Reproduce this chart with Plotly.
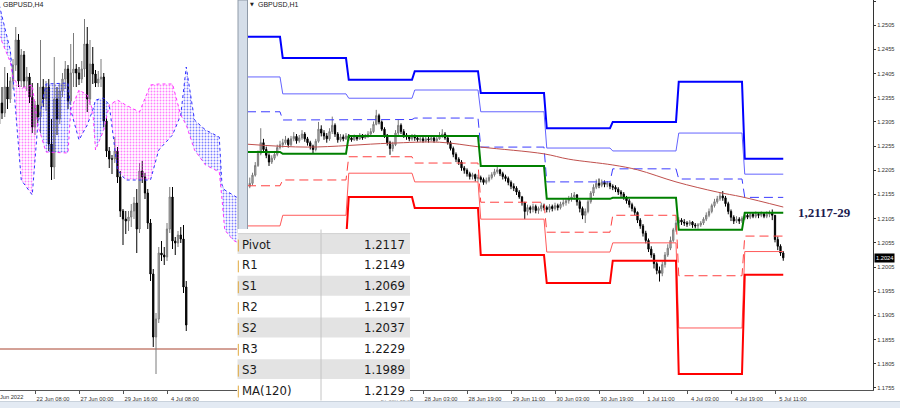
import plotly.graph_objects as go

W, H = 900, 408

# ---------------- H4 chart (left window) ----------------
h4_bar = list(range(-13, 56))
h4_first_open = 1.2225
h4_close = [1.2246, 1.2236, 1.2262, 1.2250, 1.2268, 1.2284, 1.2309, 1.2268, 1.2294, 1.2268, 1.2272, 1.2252, 1.2222,
            1.2244, 1.2232, 1.2262, 1.2250, 1.2262, 1.2205, 1.2182, 1.2250, 1.2230, 1.2258, 1.2270, 1.2280, 1.2248,
            1.2276, 1.2280, 1.2276, 1.2270, 1.2280, 1.2305, 1.2250, 1.2285, 1.2275, 1.2266, 1.2270, 1.2272, 1.2228,
            1.2198, 1.2190, 1.2190, 1.2198, 1.2172, 1.2138, 1.2130, 1.2128, 1.2132, 1.2138, 1.2146, 1.2120, 1.2178,
            1.2172, 1.2156, 1.2126, 1.2075, 1.2012, 1.2030, 1.2096, 1.2094, 1.2092, 1.2120, 1.2152, 1.2108, 1.2106,
            1.2114, 1.2110, 1.2062, 1.2024]
h4_high = [1.2250, 1.2262, 1.2282, 1.2276, 1.2272, 1.2290, 1.2322, 1.2315, 1.2300, 1.2298, 1.2282, 1.2276, 1.2266,
           1.2248, 1.2266, 1.2309, 1.2270, 1.2268, 1.2270, 1.2230, 1.2292, 1.2262, 1.2266, 1.2276, 1.2288, 1.2284,
           1.2305, 1.2316, 1.2285, 1.2282, 1.2288, 1.2330, 1.2322, 1.2309, 1.2302, 1.2279, 1.2278, 1.2290, 1.2276,
           1.2232, 1.2202, 1.2194, 1.2212, 1.2202, 1.2178, 1.2140, 1.2138, 1.2138, 1.2145, 1.2152, 1.2160, 1.2186,
           1.2188, 1.2176, 1.2160, 1.2130, 1.2080, 1.2036, 1.2102, 1.2108, 1.2102, 1.2126, 1.2162, 1.2162, 1.2112,
           1.2118, 1.2122, 1.2124, 1.2068]
h4_low = [1.2215, 1.2230, 1.2232, 1.2240, 1.2246, 1.2260, 1.2278, 1.2262, 1.2262, 1.2262, 1.2258, 1.2246, 1.2216,
          1.2214, 1.2226, 1.2216, 1.2242, 1.2238, 1.2198, 1.2169, 1.2170, 1.2214, 1.2225, 1.2252, 1.2260, 1.2240,
          1.2244, 1.2262, 1.2262, 1.2264, 1.2266, 1.2272, 1.2237, 1.2244, 1.2265, 1.2262, 1.2262, 1.2262, 1.2222,
          1.2192, 1.2181, 1.2175, 1.2186, 1.2166, 1.2132, 1.2104, 1.2115, 1.2118, 1.2122, 1.2130, 1.2096, 1.2116,
          1.2166, 1.2150, 1.2120, 1.2068, 1.2002, 1.1975, 1.2026, 1.2088, 1.2084, 1.2088, 1.2116, 1.2100, 1.2094,
          1.2102, 1.2106, 1.2056, 1.2018]
h4_tick_bars = [0, 16, 32, 48]
h4_tick_text = ["22 Jun 08:00", "27 Jun 00:00", "29 Jun 16:00", "4 Jul 08:00"]
h4_first_label = "17 Jun 2022"
h4_level = 1.2000

# Ichimoku Senkou spans (shifted forward)
span_bar = [-13, -9, -8, -5, -1, 1, 4, 12, 13, 16, 19, 21, 22, 25, 27, 30, 33, 38, 42, 45, 50, 53, 55, 58,
            62, 67, 68, 69, 72, 75]
span_a = [1.2344, 1.2299, 1.2271, 1.2169, 1.2154, 1.2224, 1.2265, 1.2266, 1.2239, 1.2209, 1.2224, 1.2239,
          1.2249, 1.2251, 1.2244, 1.2179, 1.2169, 1.2169, 1.2169, 1.2199, 1.2214, 1.2234, 1.2282, 1.2229,
          1.2219, 1.2212, 1.2164, 1.2159, 1.2154, 1.2149]
span_b = [1.2314, 1.2287, 1.2271, 1.2261, 1.2264, 1.2224, 1.2197, 1.2196, 1.2239, 1.2259, 1.2254, 1.2239,
          1.2199, 1.2219, 1.2244, 1.2249, 1.2244, 1.2237, 1.2264, 1.2265, 1.2265, 1.2234, 1.2224, 1.2199,
          1.2184, 1.2177, 1.2150, 1.2119, 1.2109, 1.2104]

# ---------------- H1 chart (right window) ----------------
h1_bar = list(range(-60, 135))
h1_first_open = 1.2172
h1_close = [1.2178, 1.2195, 1.2215, 1.2240, 1.2262, 1.2248, 1.2236, 1.2222, 1.2230, 1.2238, 1.2252, 1.2258,
            1.2262, 1.2268, 1.2258, 1.2270, 1.2275, 1.2266, 1.2272, 1.2280, 1.2270, 1.2262, 1.2255, 1.2248,
            1.2265, 1.2290, 1.2282, 1.2276, 1.2270, 1.2285, 1.2298, 1.2280, 1.2268, 1.2274, 1.2270, 1.2276,
            1.2272, 1.2268, 1.2275, 1.2270, 1.2278, 1.2272, 1.2276, 1.2280, 1.2285, 1.2300, 1.2318, 1.2305,
            1.2290, 1.2278, 1.2262, 1.2250, 1.2258, 1.2282, 1.2298, 1.2285, 1.2278, 1.2274, 1.2270, 1.2275,
            1.2272, 1.2268, 1.2270, 1.2266, 1.2270, 1.2268, 1.2272, 1.2266, 1.2270, 1.2276, 1.2280, 1.2272,
            1.2262, 1.2250, 1.2238, 1.2228, 1.2222, 1.2210, 1.2205, 1.2198, 1.2192, 1.2196, 1.2188, 1.2190,
            1.2186, 1.2180, 1.2184, 1.2190, 1.2196, 1.2202, 1.2206, 1.2198, 1.2192, 1.2188, 1.2180, 1.2172,
            1.2168, 1.2160, 1.2150, 1.2138, 1.2120, 1.2128, 1.2124, 1.2130, 1.2122, 1.2126, 1.2132, 1.2128,
            1.2124, 1.2130, 1.2126, 1.2132, 1.2128, 1.2135, 1.2138, 1.2142, 1.2146, 1.2150, 1.2154, 1.2140,
            1.2126, 1.2112, 1.2120, 1.2140, 1.2158, 1.2170, 1.2178, 1.2174, 1.2180, 1.2176, 1.2178, 1.2172,
            1.2170, 1.2166, 1.2160, 1.2156, 1.2148, 1.2142, 1.2134, 1.2126, 1.2118, 1.2102, 1.2090, 1.2075,
            1.2060, 1.2042, 1.2030, 1.2012, 1.1998, 1.1992, 1.2010, 1.2030, 1.2044, 1.2060, 1.2082, 1.2096,
            1.2102, 1.2098, 1.2096, 1.2094, 1.2098, 1.2092, 1.2090, 1.2092, 1.2096, 1.2104, 1.2112, 1.2120,
            1.2132, 1.2140, 1.2146, 1.2152, 1.2148, 1.2136, 1.2120, 1.2108, 1.2100, 1.2104, 1.2100, 1.2106,
            1.2112, 1.2108, 1.2114, 1.2110, 1.2114, 1.2112, 1.2115, 1.2110, 1.2114, 1.2116, 1.2112, 1.2062,
            1.2048, 1.2034, 1.2024]
h1_high = [1.2190, 1.2200, 1.2222, 1.2246, 1.2292, 1.2270, 1.2254, 1.2240, 1.2236, 1.2245, 1.2258, 1.2266,
           1.2270, 1.2276, 1.2272, 1.2276, 1.2284, 1.2280, 1.2278, 1.2288, 1.2284, 1.2274, 1.2266, 1.2258,
           1.2270, 1.2305, 1.2298, 1.2288, 1.2282, 1.2292, 1.2316, 1.2302, 1.2284, 1.2280, 1.2279, 1.2282,
           1.2280, 1.2276, 1.2279, 1.2278, 1.2282, 1.2280, 1.2280, 1.2286, 1.2292, 1.2306, 1.2330, 1.2322,
           1.2308, 1.2294, 1.2280, 1.2266, 1.2264, 1.2288, 1.2309, 1.2302, 1.2290, 1.2282, 1.2278, 1.2280,
           1.2279, 1.2276, 1.2274, 1.2274, 1.2276, 1.2274, 1.2278, 1.2275, 1.2276, 1.2284, 1.2290, 1.2284,
           1.2276, 1.2266, 1.2254, 1.2242, 1.2232, 1.2226, 1.2214, 1.2209, 1.2202, 1.2200, 1.2198, 1.2196,
           1.2194, 1.2190, 1.2190, 1.2196, 1.2201, 1.2208, 1.2212, 1.2208, 1.2202, 1.2196, 1.2192, 1.2184,
           1.2178, 1.2172, 1.2164, 1.2152, 1.2140, 1.2134, 1.2132, 1.2136, 1.2134, 1.2130, 1.2138, 1.2136,
           1.2132, 1.2135, 1.2134, 1.2138, 1.2136, 1.2140, 1.2145, 1.2148, 1.2152, 1.2158, 1.2160, 1.2156,
           1.2144, 1.2130, 1.2126, 1.2144, 1.2162, 1.2176, 1.2186, 1.2188, 1.2186, 1.2184, 1.2183, 1.2180,
           1.2176, 1.2174, 1.2170, 1.2164, 1.2160, 1.2152, 1.2146, 1.2138, 1.2130, 1.2120, 1.2106, 1.2094,
           1.2080, 1.2064, 1.2048, 1.2034, 1.2016, 1.2006, 1.2016, 1.2036, 1.2052, 1.2068, 1.2086, 1.2102,
           1.2108, 1.2106, 1.2104, 1.2100, 1.2102, 1.2100, 1.2096, 1.2096, 1.2100, 1.2108, 1.2118, 1.2126,
           1.2136, 1.2146, 1.2152, 1.2160, 1.2162, 1.2152, 1.2140, 1.2124, 1.2112, 1.2110, 1.2108, 1.2110,
           1.2118, 1.2116, 1.2118, 1.2118, 1.2120, 1.2118, 1.2120, 1.2118, 1.2120, 1.2122, 1.2124, 1.2112,
           1.2068, 1.2052, 1.2038]
h1_low = [1.2168, 1.2174, 1.2192, 1.2212, 1.2236, 1.2242, 1.2230, 1.2214, 1.2218, 1.2226, 1.2234, 1.2248,
          1.2252, 1.2258, 1.2252, 1.2255, 1.2265, 1.2260, 1.2262, 1.2268, 1.2264, 1.2256, 1.2248, 1.2240,
          1.2244, 1.2262, 1.2275, 1.2268, 1.2262, 1.2266, 1.2280, 1.2274, 1.2262, 1.2264, 1.2265, 1.2268,
          1.2266, 1.2264, 1.2266, 1.2266, 1.2268, 1.2268, 1.2270, 1.2272, 1.2277, 1.2282, 1.2298, 1.2300,
          1.2286, 1.2272, 1.2256, 1.2237, 1.2244, 1.2255, 1.2278, 1.2280, 1.2272, 1.2268, 1.2265, 1.2266,
          1.2266, 1.2264, 1.2264, 1.2262, 1.2263, 1.2262, 1.2265, 1.2262, 1.2264, 1.2268, 1.2272, 1.2268,
          1.2258, 1.2246, 1.2232, 1.2222, 1.2216, 1.2204, 1.2198, 1.2192, 1.2186, 1.2186, 1.2182, 1.2181,
          1.2180, 1.2175, 1.2176, 1.2180, 1.2186, 1.2192, 1.2198, 1.2193, 1.2186, 1.2182, 1.2174, 1.2166,
          1.2162, 1.2154, 1.2146, 1.2132, 1.2104, 1.2112, 1.2116, 1.2118, 1.2116, 1.2115, 1.2120, 1.2122,
          1.2118, 1.2118, 1.2120, 1.2122, 1.2122, 1.2124, 1.2130, 1.2132, 1.2136, 1.2140, 1.2144, 1.2132,
          1.2118, 1.2104, 1.2096, 1.2116, 1.2136, 1.2152, 1.2166, 1.2168, 1.2170, 1.2170, 1.2170, 1.2166,
          1.2164, 1.2160, 1.2154, 1.2150, 1.2144, 1.2136, 1.2128, 1.2120, 1.2112, 1.2096, 1.2084, 1.2068,
          1.2054, 1.2036, 1.2024, 1.2002, 1.1990, 1.1975, 1.1986, 1.2004, 1.2026, 1.2040, 1.2056, 1.2078,
          1.2090, 1.2092, 1.2090, 1.2088, 1.2090, 1.2086, 1.2085, 1.2084, 1.2088, 1.2092, 1.2100, 1.2108,
          1.2116, 1.2128, 1.2136, 1.2142, 1.2142, 1.2130, 1.2114, 1.2100, 1.2094, 1.2096, 1.2094, 1.2096,
          1.2102, 1.2104, 1.2104, 1.2106, 1.2106, 1.2106, 1.2108, 1.2106, 1.2106, 1.2108, 1.2102, 1.2056,
          1.2040, 1.2028, 1.2018]

# daily pivot levels (one value per trading day)
day_start = [-61, -48, -24, 0, 24, 48, 72, 96, 120]
day_end = [-49, -25, -1, 23, 47, 71, 95, 119, 134]
lvl_r3 = [1.2481, 1.2437, 1.2392, 1.2410, 1.2365, 1.2292, 1.2305, 1.2388, 1.2229]
lvl_r2 = [1.2398, 1.2363, 1.2354, 1.2371, 1.2326, 1.2251, 1.2245, 1.2282, 1.2197]
lvl_r1 = [1.2326, 1.2309, 1.2310, 1.2313, 1.2253, 1.2181, 1.2208, 1.2187, 1.2149]
lvl_pp = [1.2243, 1.2239, 1.2276, 1.2276, 1.2214, 1.2146, 1.2148, 1.2082, 1.2117]
lvl_s1 = [1.2173, 1.2185, 1.2233, 1.2220, 1.2139, 1.2077, 1.2112, 1.1987, 1.2069]
lvl_s2 = [1.2090, 1.2112, 1.2199, 1.2181, 1.2104, 1.2036, 1.2055, 1.1879, 1.2037]
lvl_s3 = [1.2010, 1.2058, 1.2150, 1.2127, 1.2030, 1.1972, 1.2018, 1.1784, 1.1989]

ma_bar = [-61, -39, -9, 9, 24, 47, 56, 72, 81, 95, 110, 119, 134]
ma_val = [1.2259, 1.2253, 1.2261, 1.2263, 1.2253, 1.2239, 1.2228, 1.2216, 1.2206, 1.2181, 1.2160, 1.2150, 1.2129]

h1_tick_bars = [-13, 3, 19, 35, 51, 67, 83, 99, 115, 131]
h1_tick_text = ["27 Jun 11:00", "28 Jun 03:00", "28 Jun 19:00", "29 Jun 11:00", "30 Jun 03:00",
                "30 Jun 19:00", "1 Jul 11:00", "4 Jul 03:00", "4 Jul 19:00", "5 Jul 11:00"]
price_ticks = [1.2555, 1.2505, 1.2455, 1.2405, 1.2355, 1.2305, 1.2255, 1.2205, 1.2155, 1.2105,
               1.2055, 1.2005, 1.1955, 1.1905, 1.1855, 1.1805, 1.1755]
price_tick_text = ["1.2555", "1.2505", "1.2455", "1.2405", "1.2355", "1.2305", "1.2255", "1.2205", "1.2155",
                   "1.2105", "1.2055", "1.2005", "1.1955", "1.1905", "1.1855", "1.1805", "1.1755"]
last_price = 1.2024

table_labels = ["Pivot", "R1", "S1", "R2", "S2", "R3", "S3", "MA(120)"]
table_values = ["1.2117", "1.2149", "1.2069", "1.2197", "1.2037", "1.2229", "1.1989", "1.2129"]
zone_label = "1,2117-29"


# ---------------- helpers (pixel -> paper) ----------------
def px(x):
    return x / W


def py(y):
    return 1 - y / H


TICK_FONT = dict(family="Liberation Sans, Arial, sans-serif", size=5.7, color="#333333")
TABLE_FONT = "Liberation Sans Narrow, Arial Narrow, DejaVu Sans Condensed, Liberation Sans, sans-serif"

fig = go.Figure()

# ---- Ichimoku cloud (left) ----
sections = []
cur = [0]
for i in range(1, len(span_bar)):
    cur.append(i)
    if span_a[i] == span_b[i] and i != len(span_bar) - 1:
        sections.append(cur)
        cur = [i]
if len(cur) > 1:
    sections.append(cur)

for sec in sections:
    up = any(span_a[j] > span_b[j] for j in sec)
    col = "#0000ff" if up else "#ff00ff"
    xs = [span_bar[j] for j in sec] + [span_bar[j] for j in reversed(sec)]
    ys = [span_a[j] for j in sec] + [span_b[j] for j in reversed(sec)]
    fig.add_trace(go.Scatter(
        x=xs, y=ys, mode="none", fill="toself", fillcolor="rgba(0,0,0,0)",
        fillpattern=dict(shape=".", fgcolor=col, bgcolor="rgba(0,0,0,0)", size=3, solidity=0.3),
        xaxis="x", yaxis="y", hoverinfo="skip", showlegend=False))

fig.add_trace(go.Scatter(x=span_bar, y=span_a, mode="lines", line=dict(color="#3030ff", width=1, dash="dot"),
                         xaxis="x", yaxis="y", hoverinfo="skip", showlegend=False))
fig.add_trace(go.Scatter(x=span_bar, y=span_b, mode="lines", line=dict(color="#ff30ff", width=1, dash="dot"),
                         xaxis="x", yaxis="y", hoverinfo="skip", showlegend=False))

h4_open = [h4_first_open] + h4_close[:-1]
candle_style = dict(
    increasing=dict(line=dict(color="#7a7a7a", width=1), fillcolor="#bcbcbc"),
    decreasing=dict(line=dict(color="#000000", width=1), fillcolor="#000000"),
    whiskerwidth=0, hoverinfo="skip", showlegend=False)
fig.add_trace(go.Candlestick(x=h4_bar, open=h4_open, high=h4_high, low=h4_low, close=h4_close,
                             xaxis="x", yaxis="y", **candle_style))

# ---- pivot levels (right) ----
def step_xy(levels):
    xs, ys = [], []
    for s, e, v in zip(day_start, day_end, levels):
        xs += [s, e]
        ys += [v, v]
    return xs, ys


level_styles = [
    (lvl_r3, "#0000ff", 2, "solid"),
    (lvl_r2, "#6464ff", 1, "solid"),
    (lvl_r1, "#3c3cff", 1, "9px,5px"),
    (lvl_s1, "#ff4040", 1, "9px,5px"),
    (lvl_s2, "#ff5a5a", 1, "solid"),
    (lvl_s3, "#ff0000", 2, "solid"),
]
for levels, col, wd, dash in level_styles:
    xs, ys = step_xy(levels)
    fig.add_trace(go.Scatter(x=xs, y=ys, mode="lines", line=dict(color=col, width=wd, dash=dash),
                             xaxis="x2", yaxis="y2", hoverinfo="skip", showlegend=False))

fig.add_trace(go.Scatter(x=ma_bar, y=ma_val, mode="lines", line=dict(color="#c0504d", width=1, shape="spline"),
                         xaxis="x2", yaxis="y2", hoverinfo="skip", showlegend=False))

xs, ys = step_xy(lvl_pp)
fig.add_trace(go.Scatter(x=xs, y=ys, mode="lines", line=dict(color="#008000", width=2),
                         xaxis="x2", yaxis="y2", hoverinfo="skip", showlegend=False))

h1_open = [h1_first_open] + h1_close[:-1]
fig.add_trace(go.Candlestick(x=h1_bar, open=h1_open, high=h1_high, low=h1_low, close=h1_close,
                             xaxis="x2", yaxis="y2", **candle_style))

# ---------------- layout ----------------
k_per_px = 1 / 2.75
x_left_range = [(0 - 35) * k_per_px, (237 - 35) * k_per_px]
x_right_range = [(248 - 414.75) * k_per_px, (873 - 414.75) * k_per_px]
y_right_range = [1.2555 - 389 / 4837, 1.2555 + 1 / 4837]
y_left_range = [1.2000 - 41 / 10000, 1.2000 + 349 / 10000]

axis_common = dict(showgrid=False, zeroline=False, fixedrange=True)
fig.update_layout(
    width=W, height=H, autosize=False,
    margin=dict(l=0, r=0, t=0, b=0),
    paper_bgcolor="white", plot_bgcolor="white",
    showlegend=False, boxgap=0.35,
    xaxis=dict(domain=[0, px(237)], range=x_left_range, anchor="y", showline=True, linecolor="#555555",
               linewidth=1, ticks="outside", ticklen=3, tickcolor="#555555", tickvals=h4_tick_bars,
               ticktext=h4_tick_text, tickfont=TICK_FONT, ticklabelshift=18,
               rangeslider=dict(visible=False), **axis_common),
    yaxis=dict(domain=[py(390), 1], range=y_left_range, anchor="x", visible=False, **axis_common),
    xaxis2=dict(domain=[px(248), px(873)], range=x_right_range, anchor="y2", showline=True,
                linecolor="#555555", linewidth=1, ticks="outside", ticklen=3, tickcolor="#555555",
                tickvals=h1_tick_bars, ticktext=h1_tick_text, tickfont=TICK_FONT, ticklabelshift=18,
                rangeslider=dict(visible=False), **axis_common),
    yaxis2=dict(domain=[py(390), 1], range=y_right_range, anchor="x2", side="right", showline=True,
                linecolor="#333333", linewidth=1, ticks="outside", ticklen=2, tickcolor="#333333",
                tickvals=price_ticks, ticktext=price_tick_text, tickfont=TICK_FONT, **axis_common),
)

shapes = []
annotations = []

# horizontal level on the H4 chart
shapes.append(dict(type="line", xref="x domain", x0=0, x1=1, yref="y", y0=h4_level, y1=h4_level,
                   line=dict(color="#a8432f", width=1), layer="below"))

# window separator
shapes.append(dict(type="rect", xref="paper", yref="paper", x0=px(238), x1=px(247.5), y0=py(233), y1=py(0),
                   fillcolor="#d5dee9", line=dict(color="#8f9aa8", width=1), layer="above"))
# bottom tab strip
shapes.append(dict(type="rect", xref="paper", yref="paper", x0=0, x1=1, y0=0, y1=py(401.5),
                   fillcolor="#e3eaf3", line=dict(width=0), layer="above"))
shapes.append(dict(type="line", xref="paper", yref="paper", x0=0, x1=1, y0=py(401.5), y1=py(401.5),
                   line=dict(color="#c9d2dc", width=1), layer="above"))

# info table
row_h = 20.86
top = 233.6
shapes.append(dict(type="rect", xref="paper", yref="paper", x0=px(237.5), x1=px(410), y0=py(top + 8 * row_h),
                   y1=py(229), fillcolor="#ffffff", line=dict(width=0), layer="above"))
for i, (lab, val) in enumerate(zip(table_labels, table_values)):
    y0 = top + i * row_h
    shapes.append(dict(type="rect", xref="paper", yref="paper", x0=px(237.5), x1=px(410),
                       y0=py(y0 + row_h - 0.5), y1=py(y0 + 0.5),
                       fillcolor="#e3e3e3" if i % 2 == 0 else "#ffffff", line=dict(width=0), layer="above"))
    shapes.append(dict(type="line", xref="paper", yref="paper", x0=px(238.3), x1=px(238.3),
                       y0=py(y0 + row_h - 3), y1=py(y0 + 6), line=dict(color="#e0a83c", width=1), layer="above"))
    annotations.append(dict(xref="paper", yref="paper", x=px(240), y=py(y0 + row_h / 2), text=lab,
                            xanchor="left", yanchor="middle", showarrow=False,
                            font=dict(family=TABLE_FONT, size=13, color="#1a1a1a")))
    annotations.append(dict(xref="paper", yref="paper", x=px(407), y=py(y0 + row_h / 2), text=val,
                            xanchor="right", yanchor="middle", showarrow=False,
                            font=dict(family=TABLE_FONT, size=13, color="#1a1a1a")))
shapes.append(dict(type="line", xref="paper", yref="paper", x0=px(321), x1=px(321), y0=py(top + 8 * row_h),
                   y1=py(229.5), line=dict(color="#c4c4c4", width=1), layer="above"))
shapes.append(dict(type="line", xref="paper", yref="paper", x0=px(237.5), x1=px(410), y0=py(top),
                   y1=py(top), line=dict(color="#d0d0d0", width=1), layer="above"))

# window titles
annotations.append(dict(xref="paper", yref="paper", x=px(1), y=py(5), text="GBPUSD,H4", xanchor="left",
                        yanchor="middle", showarrow=False,
                        font=dict(family="Liberation Sans, Arial", size=7, color="#222222")))
annotations.append(dict(xref="paper", yref="paper", x=px(248), y=py(4.5), text="▼", xanchor="left",
                        yanchor="middle", showarrow=False,
                        font=dict(family="DejaVu Sans", size=5, color="#222222")))
annotations.append(dict(xref="paper", yref="paper", x=px(256), y=py(5), text="GBPUSD,H1", xanchor="left",
                        yanchor="middle", showarrow=False,
                        font=dict(family="Liberation Sans, Arial", size=7, color="#222222")))
# cut-off first date label of the H4 window
annotations.append(dict(xref="paper", yref="paper", x=px(-10), y=py(396.5), text=h4_first_label,
                        xanchor="left", yanchor="middle", showarrow=False, font=TICK_FONT))
# current price marker
annotations.append(dict(xref="paper", yref="y2", x=px(874), y=last_price, text=f"{last_price:.4f}",
                        xanchor="left", yanchor="middle", showarrow=False, bgcolor="#000000",
                        borderpad=1, font=dict(family="Liberation Sans, Arial", size=5.7, color="#ffffff")))
# zone label
annotations.append(dict(xref="paper", yref="paper", x=px(796), y=py(212), text=f"<b>{zone_label}</b>",
                        xanchor="left", yanchor="middle", showarrow=False,
                        font=dict(family="Liberation Serif, Times New Roman, serif", size=13, color="#1b1b4f")))

fig.update_layout(shapes=shapes, annotations=annotations)
fig.write_html("out.html",
               config={"displayModeBar": False, "staticPlot": True},
               post_script="document.body.style.margin='0';document.body.style.padding='0';"
                           "document.documentElement.style.overflow='hidden';")
